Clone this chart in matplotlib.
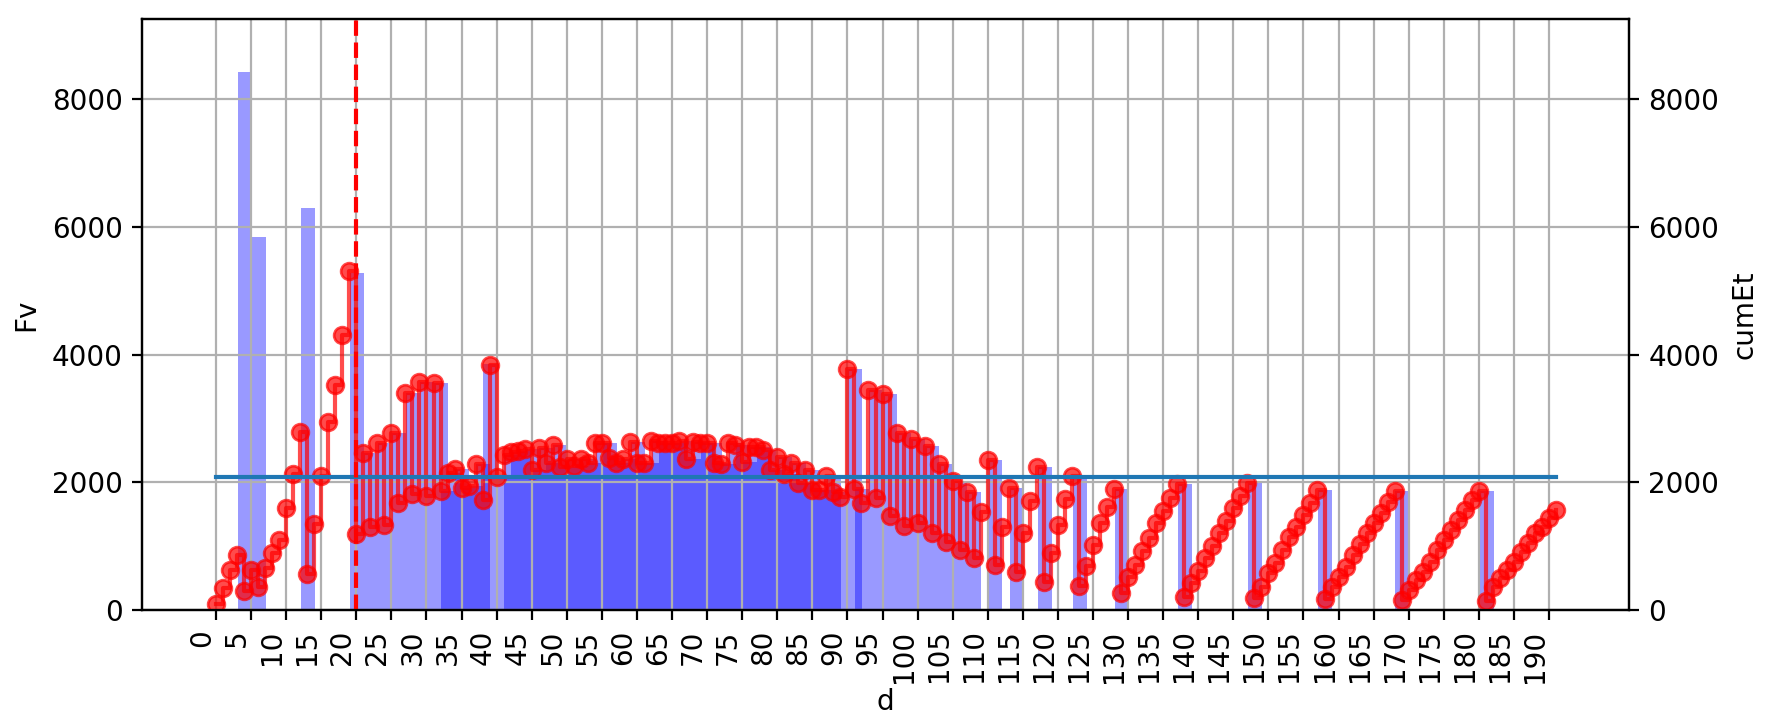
import numpy as np
import matplotlib.pyplot as plt

# daily cumulative ET (right axis)
days = np.arange(192)
cumEt = [
    94, 349, 626, 856, 303, 626, 366, 652, 888, 1096,
    1592, 2130, 2793, 564, 1347, 2099, 2950, 3524, 4312, 5300,
    1190, 2464, 1295, 2620, 1331, 2767, 1671, 3404, 1810, 3576,
    1786, 3550, 1869, 2141, 2208, 1906, 1947, 2287, 1723, 3837,
    2078, 2428, 2480, 2495, 2516, 2193, 2532, 2307, 2584, 2245,
    2360, 2255, 2360, 2297, 2610, 2620, 2376, 2297, 2360, 2636,
    2307, 2307, 2652, 2610, 2620, 2620, 2652, 2360, 2636, 2620,
    2610, 2307, 2287, 2620, 2584, 2323, 2548, 2548, 2506, 2193,
    2391, 2130, 2297, 1994, 2193, 1879, 1879, 2099, 1853, 1775,
    3774, 1890, 1676, 3446, 1760, 3380, 1475, 2767, 1320, 2680,
    1357, 2575, 1201, 2285, 1070, 2015, 940, 1853, 810, 1540,
    2349, 705, 1305, 1906, 600, 1201, 1707, 2245, 444, 888,
    1331, 1733, 2099, 376, 689, 1018, 1357, 1618, 1890, 261,
    512, 705, 929, 1123, 1357, 1555, 1749, 1973, 209, 418,
    616, 809, 1002, 1201, 1399, 1592, 1786, 1984, 183, 366,
    574, 741, 940, 1148, 1305, 1488, 1671, 1879, 167, 366,
    522, 679, 862, 1034, 1201, 1357, 1514, 1697, 1864, 157,
    313, 470, 600, 757, 940, 1096, 1253, 1409, 1566, 1723,
    1864, 146, 366, 496, 627, 757, 914, 1044, 1211, 1305,
    1436, 1566,
]

# irrigation events (left axis)
irr_days = [3, 5, 12, 19, 21, 23, 25, 27, 29, 31,
            32, 33, 34, 35, 36, 37, 38,
            40, 41, 42, 43, 44, 45, 46, 47, 48, 49,
            50, 51, 52, 53, 54, 55, 56, 57, 58, 59,
            60, 61, 62, 63, 64, 65, 66, 67, 68, 69,
            70, 71, 72, 73, 74, 75, 76, 77, 78, 79,
            80, 81, 82, 83, 84, 85, 86, 87, 88,
            90, 91, 93, 95, 97, 99, 101, 103, 105, 107,
            110, 113, 117, 122, 128, 137, 147, 157, 168, 180]
Fv = [8420, 5840, 6300, 5280, 2464, 2620, 2767, 3404, 3576, 3550,
      1869, 2141, 2208, 1906, 1947, 2287, 3850,
      2078, 2428, 2480, 2495, 2516, 2193, 2532, 2307, 2584, 2245,
      2360, 2255, 2360, 2297, 2610, 2620, 2376, 2297, 2360, 2636,
      2307, 2307, 2652, 2610, 2620, 2620, 2652, 2360, 2636, 2620,
      2610, 2307, 2287, 2620, 2584, 2323, 2548, 2548, 2506, 2193,
      2391, 2130, 2297, 1994, 2193, 1879, 1879, 2099, 1853,
      3774, 1890, 3446, 3380, 2767, 2680, 2575, 2285, 2015, 1853,
      2349, 1906, 2245, 2099, 1890, 1973, 1984, 1879, 1864, 1864]

mean_et = 2085
split_day = 20

fig, ax = plt.subplots(figsize=(8.84, 3.585), dpi=200)
fig.subplots_adjust(left=142 / 1768, right=1629 / 1768, bottom=107 / 717, top=698 / 717)

ax.bar(np.array(irr_days) + 0.1, Fv, width=2.0, align="edge", color="blue", alpha=0.4)
ax.grid(True)
ax.set_xlabel("d", labelpad=2)
ax.set_ylabel("Fv")

ax2 = ax.twinx()
ax2.plot(days, cumEt, "o-", color="red", alpha=0.7, drawstyle="steps-post")
ax2.plot([days[0], days[-1]], [mean_et, mean_et], color="tab:blue")
ax2.axvline(split_day, color="red", ls="--")
ax2.set_ylabel("cumEt")

xt = np.arange(0, 195, 5)
ax.set_xticks(xt)
ax.set_xticklabels([str(v) for v in xt], rotation=90, ha="right")
ax.set_xlim(-10.55, 201.4)
for a in (ax, ax2):
    a.set_ylim(0, 9253)
    a.set_yticks([0, 2000, 4000, 6000, 8000])

fig.savefig("out.png", dpi=200)
